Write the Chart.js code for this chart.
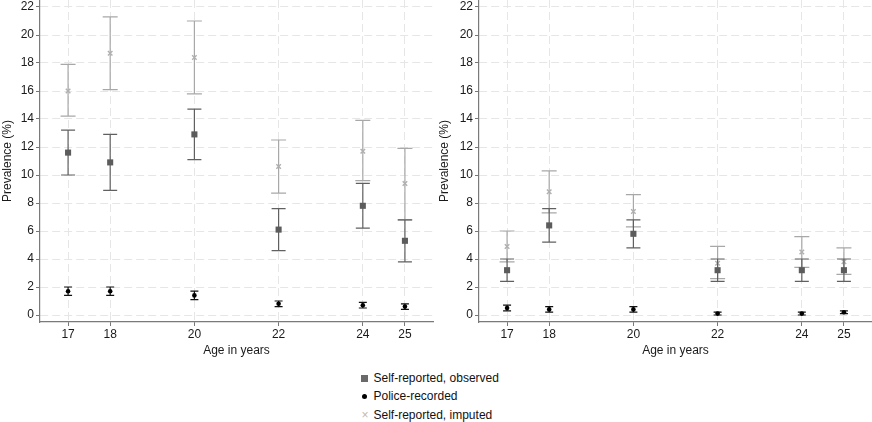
<!DOCTYPE html>
<html>
<head>
<meta charset="utf-8">
<script src="https://cdn.jsdelivr.net/npm/chart.js@4.4.1/dist/chart.umd.min.js"></script>
<style>
html,body{margin:0;padding:0;width:872px;height:422px;overflow:hidden;background:#fff;font-family:"Liberation Sans",Arial,sans-serif;}
.wrap{position:absolute;top:0;width:436px;height:365px;}
#w1{left:0;}
#w2{left:437px;}
#legend{position:absolute;left:358px;top:369px;font-size:12px;color:#111;}
.row{position:relative;height:18.3px;line-height:18.3px;white-space:nowrap;}
.mk{position:absolute;left:0;top:0;width:12px;height:18.3px;}
.tx{position:absolute;left:15.5px;top:0;}
</style>
</head>
<body>
<div class="wrap" id="w1"><canvas id="c1" width="436" height="365"></canvas></div>
<div class="wrap" id="w2"><canvas id="c2" width="436" height="365"></canvas></div>
<div id="legend"></div>
<script>
// ---- data ----
const ages = [17, 18, 20, 22, 24, 25];
const yTicks = [0, 2, 4, 6, 8, 10, 12, 14, 16, 18, 20, 22];
const xTitle = 'Age in years';
const yTitle = 'Prevalence (%)';
const seriesNames = ['Self-reported, observed', 'Police-recorded', 'Self-reported, imputed'];

// left panel
const obsL   = [11.6, 10.9, 12.9, 6.1, 7.8, 5.3];
const obsLoL = [10.0, 8.9, 11.1, 4.6, 6.2, 3.8];
const obsHiL = [13.2, 12.9, 14.7, 7.6, 9.4, 6.8];
const polL   = [1.7, 1.7, 1.4, 0.8, 0.7, 0.6];
const polLoL = [1.4, 1.4, 1.1, 0.6, 0.5, 0.4];
const polHiL = [2.0, 2.0, 1.7, 1.0, 0.9, 0.8];
const impL   = [16.0, 18.7, 18.4, 10.6, 11.7, 9.4];
const impLoL = [14.2, 16.1, 15.8, 8.7, 9.6, 6.8];
const impHiL = [17.9, 21.3, 21.0, 12.5, 13.9, 11.9];

// right panel
const obsR   = [3.2, 6.4, 5.8, 3.2, 3.2, 3.2];
const obsLoR = [2.4, 5.2, 4.8, 2.4, 2.4, 2.4];
const obsHiR = [4.0, 7.6, 6.8, 4.0, 4.0, 4.0];
const polR   = [0.5, 0.4, 0.4, 0.1, 0.1, 0.2];
const polLoR = [0.3, 0.2, 0.2, 0.0, 0.0, 0.1];
const polHiR = [0.7, 0.6, 0.6, 0.2, 0.2, 0.3];
const impR   = [4.9, 8.8, 7.4, 3.7, 4.5, 3.8];
const impLoR = [3.8, 7.3, 6.3, 2.6, 3.4, 2.9];
const impHiR = [6.0, 10.3, 8.6, 4.9, 5.6, 4.8];

// ---- styles ----
const colObs = '#5c5c5c', colObsBar = '#606060';
const colPol = '#000000', colPolBar = '#111111';
const colImp = '#b0b0b0', colImpBar = '#a8a8a8';

Chart.defaults.font.family = '"Liberation Sans", Arial, sans-serif';
Chart.defaults.font.size = 12;
Chart.defaults.color = '#1a1a1a';

const errorBars = {
  id: 'errorBars',
  beforeDatasetDraw(chart, args) {
    const ds = chart.data.datasets[args.index];
    if (!ds.errLo) return;
    const xs = chart.scales.x, ys = chart.scales.y, ctx = chart.ctx;
    ctx.save();
    ctx.strokeStyle = ds.errColor;
    ctx.lineWidth = 1.2;
    ds.data.forEach((p, i) => {
      const x = xs.getPixelForValue(p.x);
      const yl = ys.getPixelForValue(ds.errLo[i]);
      const yh = ys.getPixelForValue(ds.errHi[i]);
      const c = ds.capHalf;
      ctx.beginPath();
      ctx.moveTo(x, yl); ctx.lineTo(x, yh);
      ctx.moveTo(x - c, yl); ctx.lineTo(x + c, yl);
      ctx.moveTo(x - c, yh); ctx.lineTo(x + c, yh);
      ctx.stroke();
    });
    ctx.restore();
  }
};

function pts(vals) { return ages.map((a, i) => ({x: a, y: vals[i]})); }

function makeChart(id, obs, obsLo, obsHi, pol, polLo, polHi, imp, impLo, impHi, axisW, padR) {
  return new Chart(document.getElementById(id), {
    type: 'scatter',
    data: {
      datasets: [
        {label: seriesNames[1], data: pts(pol), errLo: polLo, errHi: polHi, errColor: colPolBar, capHalf: 4,
         pointStyle: 'circle', pointRadius: 2.3, pointBorderWidth: 0, backgroundColor: colPol, borderColor: colPol},
        {label: seriesNames[0], data: pts(obs), errLo: obsLo, errHi: obsHi, errColor: colObsBar, capHalf: 7,
         pointStyle: 'rect', pointRadius: 4.3, pointBorderWidth: 0, backgroundColor: colObs, borderColor: colObs},
        {label: seriesNames[2], data: pts(imp), errLo: impLo, errHi: impHi, errColor: colImpBar, capHalf: 7.5,
         pointStyle: 'crossRot', pointRadius: 3.2, pointBorderWidth: 1.4, backgroundColor: colImp, borderColor: colImp}
      ]
    },
    options: {
      responsive: false,
      animation: false,
      devicePixelRatio: 1,
      layout: {autoPadding: false, padding: {left: 0, right: padR, top: 0, bottom: 0}},
      plugins: {legend: {display: false}, tooltip: {enabled: false}},
      scales: {
        x: {
          type: 'linear', min: 17 - 2/3, max: 25 + 2/3,
          afterBuildTicks: s => { s.ticks = ages.map(v => ({value: v})); },
          afterFit: s => { s.height = 43; s.paddingLeft = 0; s.paddingRight = 0; },
          ticks: {padding: 1, autoSkip: false, maxRotation: 0, color: '#1a1a1a'},
          grid: {color: '#e6e6e6', lineWidth: 1, tickLength: 4, tickColor: '#777', tickBorderDash: []},
          border: {display: true, color: '#7a7a7a', width: 1.2, dash: [8, 4]},
          title: {display: true, text: xTitle, color: '#1a1a1a', padding: {top: 0, bottom: 7}}
        },
        y: {
          type: 'linear', min: -0.5, max: 22.5,
          afterBuildTicks: s => { s.ticks = yTicks.map(v => ({value: v})); },
          afterFit: s => { s.width = axisW; s.paddingTop = 0; s.paddingBottom = 0; },
          ticks: {padding: 2, color: '#1a1a1a'},
          grid: {color: '#e6e6e6', lineWidth: 1, tickLength: 4, tickColor: '#777', tickBorderDash: []},
          border: {display: true, color: '#7a7a7a', width: 1.2, dash: [8, 4]},
          title: {display: true, text: yTitle, color: '#1a1a1a', padding: {top: 0, bottom: 0}}
        }
      }
    },
    plugins: [errorBars]
  });
}

makeChart('c1', obsL, obsLoL, obsHiL, polL, polLoL, polHiL, impL, impLoL, impHiL, 40, 3);
makeChart('c2', obsR, obsLoR, obsHiR, polR, polLoR, polHiR, impR, impLoR, impHiR, 42, 1);

// ---- legend ----
const legendMarks = [
  '<div style="position:absolute;left:2.5px;top:6px;width:7px;height:7px;background:#6a6a6a"></div>',
  '<div style="position:absolute;left:3.5px;top:7px;width:5px;height:5px;border-radius:50%;background:#000"></div>',
  '<div style="position:absolute;left:1px;top:0;width:12px;text-align:center;color:#bbb;font-size:12px">\u00d7</div>'
];
const lg = document.getElementById('legend');
seriesNames.forEach((n, i) => {
  const r = document.createElement('div');
  r.className = 'row';
  r.innerHTML = '<div class="mk">' + legendMarks[i] + '</div><div class="tx">' + n + '</div>';
  lg.appendChild(r);
});
</script>
</body>
</html>
